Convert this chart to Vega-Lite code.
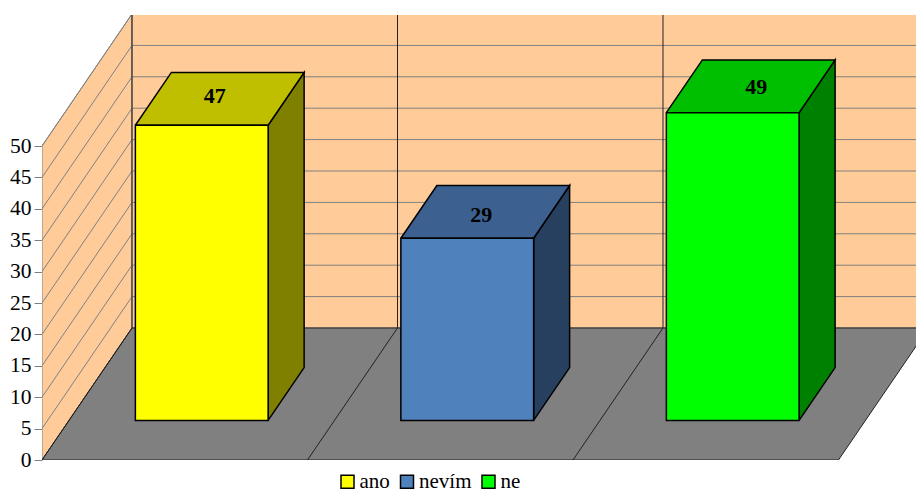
{
  "$schema": "https://vega.github.io/schema/vega-lite/v6.json",
  "width": 874,
  "height": 445,
  "autosize": {"type": "none"},
  "padding": {"left": 42, "top": 15, "right": 0, "bottom": 30},
  "background": "white",
  "view": {"stroke": null},
  "config": {"font": "Liberation Serif"},
  "layer": [
    {
      "data": {"values": [{"surface": "left wall"}]},
      "transform": [
        {"calculate": "[[0,0,0,0],[0,50,0,1],[0,50,1,2],[0,0,1,3],[0,0,0,4]]", "as": "pts"},
        {"flatten": ["pts"]},
        {"calculate": "datum.pts[0]+datum.pts[2]*0.339", "as": "sx"},
        {"calculate": "datum.pts[1]+datum.pts[2]*21.02", "as": "sy"}
      ],
      "mark": {"type": "line", "fill": "#FFCC99", "stroke": "#808080", "strokeWidth": 1, "clip": true},
      "encoding": {
        "x": {"field": "sx", "type": "quantitative", "scale": {"domain": [0, 3.292], "nice": false, "zero": false}, "axis": null},
        "y": {"field": "sy", "type": "quantitative", "scale": {"domain": [0, 70.86], "nice": false, "zero": false},
          "axis": {"title": null, "values": [0,5,10,15,20,25,30,35,40,45,50], "domain": false, "grid": false, "ticks": true, "tickSize": 8, "tickColor": "#808080", "labelFontSize": 21.5, "labelColor": "#000000", "labelPadding": 3, "labelFont": "Liberation Serif"}},
        "order": {"field": "pts[3]", "type": "quantitative"}
      }
    },
    {
      "data": {"values": [{"surface": "back wall"}]},
      "transform": [
        {"calculate": "[[0,0,1,0],[3,0,1,1],[3,50,1,2],[0,50,1,3],[0,0,1,4]]", "as": "pts"},
        {"flatten": ["pts"]},
        {"calculate": "datum.pts[0]+datum.pts[2]*0.339", "as": "sx"},
        {"calculate": "datum.pts[1]+datum.pts[2]*21.02", "as": "sy"}
      ],
      "mark": {"type": "line", "fill": "#FFCC99", "stroke": "#808080", "strokeWidth": 1, "clip": true},
      "encoding": {
        "x": {"field": "sx", "type": "quantitative"},
        "y": {"field": "sy", "type": "quantitative"},
        "order": {"field": "pts[3]", "type": "quantitative"}
      }
    },
    {
      "data": {"values": [{"surface": "floor"}]},
      "transform": [
        {"calculate": "[[0,0,0,0],[3,0,0,1],[3,0,1,2],[0,0,1,3],[0,0,0,4]]", "as": "pts"},
        {"flatten": ["pts"]},
        {"calculate": "datum.pts[0]+datum.pts[2]*0.339", "as": "sx"},
        {"calculate": "datum.pts[1]+datum.pts[2]*21.02", "as": "sy"}
      ],
      "mark": {"type": "line", "fill": "#808080", "stroke": "#222222", "strokeWidth": 1, "clip": true},
      "encoding": {
        "x": {"field": "sx", "type": "quantitative"},
        "y": {"field": "sy", "type": "quantitative"},
        "order": {"field": "pts[3]", "type": "quantitative"}
      }
    },
    {
      "data": {"values": [{"tick": 5},{"tick": 10},{"tick": 15},{"tick": 20},{"tick": 25},{"tick": 30},{"tick": 35},{"tick": 40},{"tick": 45},{"tick": 50}]},
      "transform": [
        {"calculate": "[[0,datum.tick,0,0],[0,datum.tick,1,1],[3,datum.tick,1,2]]", "as": "pts"},
        {"flatten": ["pts"]},
        {"calculate": "datum.pts[0]+datum.pts[2]*0.339", "as": "sx"},
        {"calculate": "datum.pts[1]+datum.pts[2]*21.02", "as": "sy"}
      ],
      "mark": {"type": "line", "stroke": "#808080", "strokeWidth": 1, "clip": true},
      "encoding": {
        "x": {"field": "sx", "type": "quantitative"},
        "y": {"field": "sy", "type": "quantitative"},
        "detail": {"field": "tick", "type": "quantitative"},
        "order": {"field": "pts[3]", "type": "quantitative"}
      }
    },
    {
      "data": {"values": [{"slot": 0},{"slot": 1},{"slot": 2}]},
      "transform": [
        {"calculate": "[[datum.slot,0,0,0],[datum.slot,0,1,1],[datum.slot,50,1,2]]", "as": "pts"},
        {"flatten": ["pts"]},
        {"calculate": "datum.pts[0]+datum.pts[2]*0.339", "as": "sx"},
        {"calculate": "datum.pts[1]+datum.pts[2]*21.02", "as": "sy"}
      ],
      "mark": {"type": "line", "stroke": "#222222", "strokeWidth": 1, "clip": true},
      "encoding": {
        "x": {"field": "sx", "type": "quantitative"},
        "y": {"field": "sy", "type": "quantitative"},
        "detail": {"field": "slot", "type": "quantitative"},
        "order": {"field": "pts[3]", "type": "quantitative"}
      }
    },
    {
      "data": {"name": "answers", "values": [{"answer": "ano", "count": 47},{"answer": "nevím", "count": 29},{"answer": "ne", "count": 49}]},
      "transform": [
        {"calculate": "indexof(['ano','nevím','ne'],datum.answer)+0.25", "as": "u0"},
        {"calculate": "[[datum.u0+0.5,0,0.3,0],[datum.u0+0.5,0,0.7,1],[datum.u0+0.5,datum.count,0.7,2],[datum.u0+0.5,datum.count,0.3,3],[datum.u0+0.5,0,0.3,4]]", "as": "pts"},
        {"flatten": ["pts"]},
        {"calculate": "datum.pts[0]+datum.pts[2]*0.339", "as": "sx"},
        {"calculate": "datum.pts[1]+datum.pts[2]*21.02", "as": "sy"}
      ],
      "mark": {"type": "line", "stroke": "#000000", "strokeWidth": 1.5, "strokeJoin": "miter"},
      "encoding": {
        "x": {"field": "sx", "type": "quantitative"},
        "y": {"field": "sy", "type": "quantitative"},
        "fill": {"field": "answer", "type": "nominal", "legend": null, "scale": {"domain": ["ano","nevím","ne"], "range": ["#808000","#284060","#008000"]}},
        "order": {"field": "pts[3]", "type": "quantitative"}
      }
    },
    {
      "data": {"name": "answers"},
      "transform": [
        {"calculate": "indexof(['ano','nevím','ne'],datum.answer)+0.25", "as": "u0"},
        {"calculate": "[[datum.u0,datum.count,0.3,0],[datum.u0+0.5,datum.count,0.3,1],[datum.u0+0.5,datum.count,0.7,2],[datum.u0,datum.count,0.7,3],[datum.u0,datum.count,0.3,4]]", "as": "pts"},
        {"flatten": ["pts"]},
        {"calculate": "datum.pts[0]+datum.pts[2]*0.339", "as": "sx"},
        {"calculate": "datum.pts[1]+datum.pts[2]*21.02", "as": "sy"}
      ],
      "mark": {"type": "line", "stroke": "#000000", "strokeWidth": 1.5, "strokeJoin": "miter"},
      "encoding": {
        "x": {"field": "sx", "type": "quantitative"},
        "y": {"field": "sy", "type": "quantitative"},
        "fill": {"field": "answer", "type": "nominal", "legend": null, "scale": {"domain": ["ano","nevím","ne"], "range": ["#BFBF00","#3C6090","#00BF00"]}},
        "order": {"field": "pts[3]", "type": "quantitative"}
      }
    },
    {
      "data": {"name": "answers"},
      "transform": [
        {"calculate": "indexof(['ano','nevím','ne'],datum.answer)+0.25", "as": "u0"},
        {"calculate": "datum.u0+0.3*0.339", "as": "left"},
        {"calculate": "datum.left+0.5", "as": "right"},
        {"calculate": "0.3*21.02", "as": "bottom"},
        {"calculate": "datum.count+0.3*21.02", "as": "top"}
      ],
      "mark": {"type": "rect", "stroke": "#000000", "strokeWidth": 1.5},
      "encoding": {
        "x": {"field": "left", "type": "quantitative"},
        "x2": {"field": "right"},
        "y": {"field": "bottom", "type": "quantitative"},
        "y2": {"field": "top"},
        "fill": {"field": "answer", "type": "nominal", "scale": {"domain": ["ano","nevím","ne"], "range": ["#FFFF00","#4F81BD","#00FF00"]},
          "legend": {"title": null, "orient": "none", "legendX": 295, "legendY": 456, "direction": "horizontal", "symbolType": "square", "symbolSize": 169, "symbolStrokeColor": "#000000", "symbolStrokeWidth": 1.5, "labelFont": "Liberation Serif", "labelFontSize": 21, "labelColor": "#000000", "labelOffset": 1.5, "columnPadding": 6.5, "padding": 0}}
      }
    },
    {
      "data": {"name": "answers"},
      "transform": [
        {"calculate": "indexof(['ano','nevím','ne'],datum.answer)", "as": "slot"},
        {"calculate": "datum.slot+0.5+0.5*0.339+[-0.004,0,0.036][datum.slot]", "as": "cx"},
        {"calculate": "datum.count+0.5*21.02+[0,-0.955,-0.64][datum.slot]", "as": "cy"}
      ],
      "mark": {"type": "text", "font": "Liberation Serif", "fontWeight": "bold", "fontSize": 22, "color": "#000000", "dx": -4, "dy": -3, "baseline": "middle"},
      "encoding": {
        "x": {"field": "cx", "type": "quantitative"},
        "y": {"field": "cy", "type": "quantitative"},
        "text": {"field": "count", "type": "quantitative"}
      }
    }
  ],
  "resolve": {"scale": {"fill": "independent"}}
}
